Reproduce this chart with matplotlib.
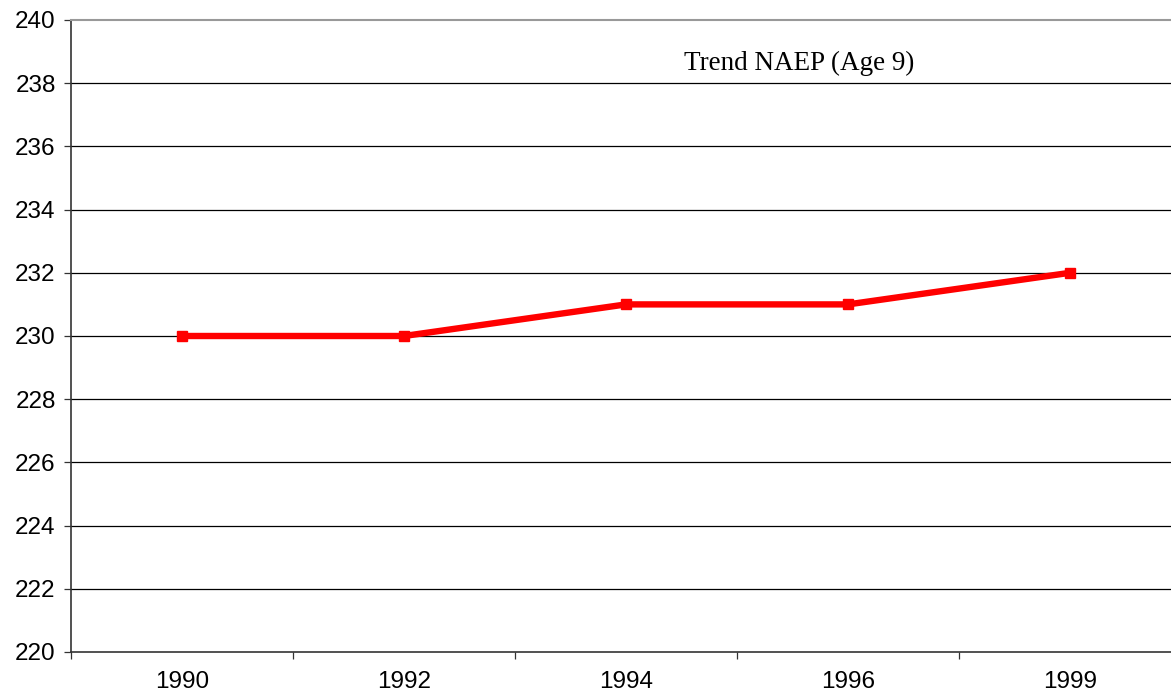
import matplotlib
matplotlib.use("Agg")
import matplotlib.pyplot as plt
import numpy as np

years = ["1990", "1992", "1994", "1996", "1999"]
scores = [230, 230, 231, 231, 232]
y_ticks = list(range(220, 241, 2))
title_text = "Trend NAEP (Age 9)"

W, H = 1171, 694
fig = plt.figure(figsize=(W / 100, H / 100), dpi=100)
ax = fig.add_axes([71 / W, 1 - 652 / H, (1181 - 71) / W, (652 - 20) / H])

x = np.arange(len(years))
ax.plot(x, scores, color="#ff0000", linewidth=4.6, marker="s", markersize=6.5,
        solid_joinstyle="miter", zorder=3)

ax.set_xlim(-0.5, len(years) - 0.5)
ax.set_ylim(220, 240)
ax.set_yticks(y_ticks)
ax.set_yticklabels([str(v) for v in y_ticks], family="Liberation Sans", fontsize=17.5)
for v in y_ticks[1:-1]:
    ax.axhline(v, color="black", linewidth=0.9, zorder=1)

ax.set_xticks(x)
ax.set_xticklabels(years, family="Liberation Sans", fontsize=17.5)
ax.set_xticks(np.arange(-0.5, len(years), 1.0), minor=True)
ax.tick_params(axis="x", which="major", length=0, pad=14)
ax.tick_params(axis="x", which="minor", length=5, direction="out", width=0.9, color="#333333")
ax.tick_params(axis="y", length=5, direction="out", width=0.9, pad=6, color="#333333")

for s in ["left", "bottom"]:
    ax.spines[s].set_color("#333333")
    ax.spines[s].set_linewidth(1.2)
ax.spines["top"].set_color("#999999")
ax.spines["top"].set_linewidth(1.5)
ax.spines["right"].set_visible(False)

fig.text(799 / W, 1 - 63 / H, title_text, fontsize=19.5, family="Liberation Serif",
         ha="center", va="center")

fig.savefig("out.png", dpi=100)
